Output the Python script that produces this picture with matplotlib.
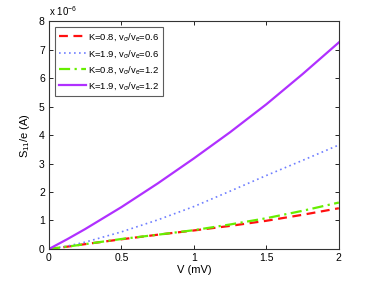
import numpy as np
import matplotlib
matplotlib.use("Agg")
import matplotlib.pyplot as plt

V = [0.0, 0.125, 0.25, 0.5, 0.75, 1.0, 1.25, 1.5, 1.75, 2.0]
s_red = [0.0, 0.08, 0.17, 0.34, 0.50, 0.65, 0.81, 0.99, 1.20, 1.43]
s_blue = [0.0, 0.10, 0.24, 0.60, 1.02, 1.49, 2.03, 2.58, 3.11, 3.65]
s_green = [0.0, 0.08, 0.17, 0.35, 0.50, 0.66, 0.86, 1.08, 1.34, 1.63]
s_purple = [0.0, 0.34, 0.70, 1.47, 2.30, 3.18, 4.10, 5.08, 6.14, 7.25]

labels = [r"K=0.8, v$_\sigma$/v$_e$=0.6", r"K=1.9, v$_\sigma$/v$_e$=0.6",
          r"K=0.8, v$_\sigma$/v$_e$=1.2", r"K=1.9, v$_\sigma$/v$_e$=1.2"]

plt.rcParams['font.family'] = ['Liberation Sans', 'DejaVu Sans']
plt.rcParams['mathtext.fontset'] = 'custom'
plt.rcParams['mathtext.rm'] = 'Liberation Sans'
plt.rcParams['mathtext.it'] = 'Liberation Sans'
plt.rcParams['mathtext.sf'] = 'Liberation Sans'

fig = plt.figure(figsize=(3.74, 2.81), dpi=100)
ax = fig.add_axes([0.131, 0.114, 0.775, 0.811])

scale = 1e-6
ax.plot(V, np.array(s_red) * scale, color='#ff1010', ls=(0, (4, 2.5)), lw=1.6, label=labels[0])
ax.plot(V, np.array(s_blue) * scale, color='#6f7fff', ls=(0, (1, 2)), lw=1.2, label=labels[1])
ax.plot(V, np.array(s_green) * scale, color='#66ee00', ls=(0, (5, 2, 1, 2)), lw=1.6, label=labels[2])
ax.plot(V, np.array(s_purple) * scale, color='#b030ff', ls='-', lw=1.6, label=labels[3])

ax.set_xlim(0, 2)
ax.set_ylim(0, 8e-6)
ax.set_xticks([0, 0.5, 1, 1.5, 2])
ax.set_xticklabels(['0', '0.5', '1', '1.5', '2'])
ax.set_yticks(np.arange(0, 9) * 1e-6)
ax.set_yticklabels([str(i) for i in range(9)])
ax.tick_params(direction='in', top=True, right=True, labelsize=7.5, length=3, width=0.6, pad=3)
for s in ax.spines.values():
    s.set_linewidth(0.8)
    s.set_color('#333333')
ax.text(0, 1.012, r"x 10$^{-6}$", transform=ax.transAxes, fontsize=7, ha='left', va='bottom')
ax.set_xlabel('V (mV)', fontsize=8, labelpad=1)
ax.set_ylabel(r"S$_{11}$/e (A)", fontsize=8, labelpad=5)

leg = ax.legend(loc='upper left', fontsize=6.8, frameon=True, fancybox=False,
                edgecolor='#333333', borderpad=0.45, labelspacing=0.45,
                handlelength=2.8, handletextpad=0.2, borderaxespad=0,
                bbox_to_anchor=(0.021, 0.974))
leg.get_frame().set_linewidth(0.8)

fig.savefig('out.png', dpi=100)
